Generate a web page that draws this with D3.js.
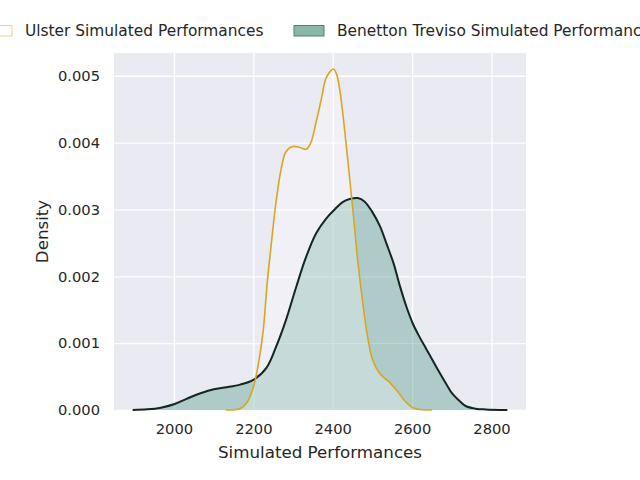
<!DOCTYPE html>
<html lang="en">
<head>
<meta charset="UTF-8">
<title>Simulated Performances KDE</title>
<style>
    body{ margin:0; background:#fff;}
    text{ font-family:"DejaVu Sans", sans-serif; fill:#262626;}
</style>
</head>
<body>
<script src="https://cdn.jsdelivr.net/npm/d3@7"></script>
<script>

// density curves: [performance, density]
var ulsterX = [2130, 2155, 2170, 2185, 2195, 2205, 2215, 2225, 2235, 2245, 2257, 2270, 2282, 2299, 2316, 2333,
               2345, 2358, 2371, 2383, 2396, 2402, 2410, 2418, 2428, 2438, 2450, 2463, 2476, 2488, 2501, 2518,
               2530, 2544, 2556, 2567, 2578, 2588, 2600, 2612, 2625, 2650];
var ulsterY = [0, 0.000005, 0.00003, 0.00012, 0.00025, 0.00045, 0.00077, 0.00119, 0.0019, 0.00247, 0.0031, 0.0036,
               0.00386, 0.00394, 0.00393, 0.0039, 0.004, 0.0043, 0.00464, 0.00496, 0.00508, 0.0051, 0.00502,
               0.00478, 0.0043, 0.00374, 0.00304, 0.00224, 0.00159, 0.00109, 0.00074, 0.00055, 0.00048,
               0.00041, 0.00033, 0.00025, 0.00016, 0.0001, 0.00004, 0.000015, 0.000004, 0];

var benettonX = [1896, 1933, 1967, 2000, 2033, 2067, 2100, 2133, 2167, 2200, 2233, 2257, 2282, 2308, 2333, 2358,
                 2383, 2405, 2425, 2445, 2463, 2480, 2500, 2519, 2536, 2553, 2569, 2586, 2602, 2619, 2636, 2652,
                 2669, 2686, 2702, 2719, 2735, 2760, 2785, 2840];
var benettonY = [0, 0.00001, 0.000035, 0.000086, 0.00017, 0.00025, 0.00031, 0.00034, 0.00038, 0.00045, 0.00063,
                 0.00094, 0.00134, 0.00184, 0.00229, 0.00264, 0.00286, 0.003, 0.00311, 0.00316, 0.00317, 0.00312,
                 0.00296, 0.00275, 0.00248, 0.0022, 0.00186, 0.00154, 0.00129, 0.00109, 0.00091, 0.00074,
                 0.00056, 0.00039, 0.00024, 0.00014, 0.00006, 0.00002, 0.000008, 0];

var xTicks = [2000, 2200, 2400, 2600, 2800];
var yTicks = [0, 0.001, 0.002, 0.003, 0.004, 0.005];
var seriesNames = ["Ulster Simulated Performances", "Benetton Treviso Simulated Performances"];


var W = 640, H = 480;
var pLeft = 114, pRight = 526, pTop = 53, pBottom = 410;

var svg = d3.select("body").append("svg")
        .attr("width", W)
        .attr("height", H);

var x = d3.scaleLinear().domain([1849, 2887]).range([pLeft, pRight]);
var y = d3.scaleLinear().domain([0, 0.00534]).range([pBottom, pTop]);

//background + grid
svg.append("rect")
        .attr("x", pLeft).attr("y", pTop)
        .attr("width", pRight - pLeft).attr("height", pBottom - pTop)
        .attr("fill", "#eaeaf2");

var gx = svg.append("g")
        .attr("transform", "translate(0," + pBottom + ")")
        .call(d3.axisBottom(x).tickValues(xTicks).tickSize(-(pBottom - pTop)).tickPadding(13.5).tickFormat(d3.format("d")));
var gy = svg.append("g")
        .attr("transform", "translate(" + pLeft + ",0)")
        .call(d3.axisLeft(y).tickValues(yTicks).tickSize(-(pRight - pLeft)).tickPadding(14).tickFormat(d3.format(".3f")));

[gx, gy].forEach(function(g){
    g.select(".domain").remove();
    g.selectAll(".tick line").attr("stroke", "#fff").attr("stroke-width", 1.3);
    g.selectAll(".tick text").attr("font-size", "14.7px").attr("fill", "#262626");
});

//curves
function pts(xs, ys){ return xs.map(function(d, i){ return [d, ys[i]]; }); }

var area = d3.area()
        .x(function(d){ return x(d[0]); })
        .y0(y(0))
        .y1(function(d){ return y(Math.max(0, d[1])); })
        .curve(d3.curveCatmullRom);
var line = d3.line()
        .x(function(d){ return x(d[0]); })
        .y(function(d){ return y(Math.max(0, d[1])); })
        .curve(d3.curveCatmullRom);

var ben = pts(benettonX, benettonY),
    uls = pts(ulsterX, ulsterY);

// fills first, then outlines (gold on top)
svg.append("path").attr("d", area(ben)).attr("fill", "#549a8c").attr("fill-opacity", 0.4);
svg.append("path").attr("d", area(uls)).attr("fill", "#ffffff").attr("fill-opacity", 0.3);
svg.append("path").attr("d", line(ben)).attr("fill", "none").attr("stroke", "#13271f").attr("stroke-width", 2);
svg.append("path").attr("d", line(uls)).attr("fill", "none").attr("stroke", "#daa520").attr("stroke-width", 1.6);

//axis labels
svg.append("text")
        .attr("x", (pLeft + pRight) / 2).attr("y", 458)
        .attr("text-anchor", "middle").attr("font-size", "16.7px")
        .text("Simulated Performances");
svg.append("text")
        .attr("transform", "translate(48," + (pTop + pBottom) / 2 + ") rotate(-90)")
        .attr("text-anchor", "middle").attr("font-size", "16.7px")
        .text("Density");

//legend
var legend = [
    { x: -18, tx: 25, fill: "#ffffff", stroke: "#f0d090" },
    { x: 294, tx: 337, fill: "#8ab8a8", stroke: "#5a7a6f" }
];
legend.forEach(function(l, i){
    svg.append("rect")
            .attr("x", l.x).attr("y", 25.5).attr("width", 30).attr("height", 10.5)
            .attr("fill", l.fill).attr("stroke", l.stroke).attr("stroke-width", 1);
    svg.append("text")
            .attr("x", l.tx).attr("y", 36).attr("font-size", "15.4px")
            .text(seriesNames[i]);
});

</script>
</body>
</html>
